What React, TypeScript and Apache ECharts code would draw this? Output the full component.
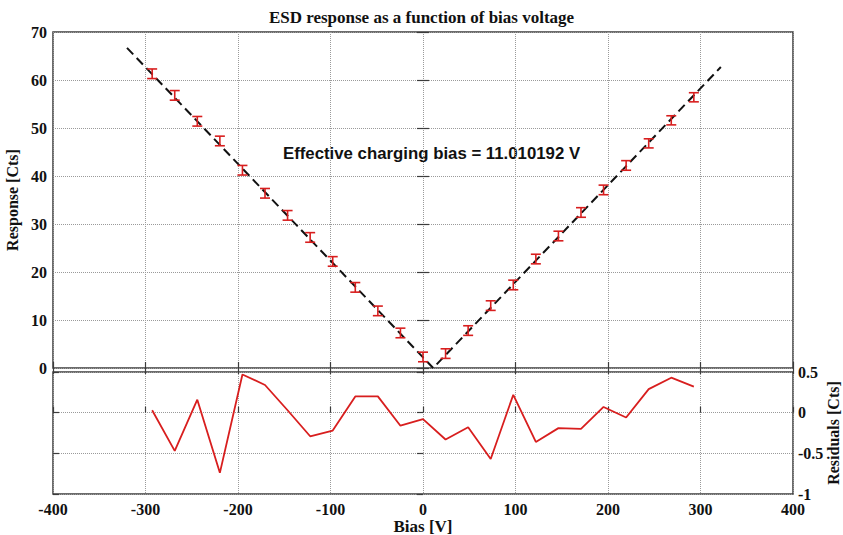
import React, { useEffect, useRef } from "react";
import * as echarts from "echarts";

const biasV = [-292.8, -268.4, -244, -219.6, -195.2, -170.8, -146.4, -122, -97.6, -73.2, -48.8, -24.4, 0, 24.4, 48.8, 73.2, 97.6, 122, 146.4, 170.8, 195.2, 219.6, 244, 268.4, 292.8];
const response = [61.3, 56.8, 51.4, 47.3, 41.2, 36.4, 31.8, 27.2, 22.2, 16.8, 11.9, 7.3, 2.3, 3.0, 7.8, 13.0, 17.3, 22.7, 27.5, 32.4, 37.1, 42.2, 46.8, 51.6, 56.4];
const responseErr = [1.0, 1.0, 1.0, 1.0, 1.0, 1.0, 1.0, 1.0, 1.0, 1.0, 1.0, 1.0, 1.0, 1.0, 1.0, 1.0, 1.0, 1.0, 1.0, 1.0, 1.0, 1.0, 0.95, 0.95, 0.95];
const residuals = [0.03, -0.47, 0.16, -0.74, 0.47, 0.34, 0.03, -0.29, -0.22, 0.2, 0.2, -0.16, -0.08, -0.33, -0.18, -0.57, 0.22, -0.36, -0.19, -0.2, 0.07, -0.06, 0.29, 0.43, 0.32];
const fitX = [-320, 11.01, 322];
const fitY = [66.7, 0, 62.7];

const RED = "#d81e1e";
const FRAME = "#3c3c3c";
const GRID = "#9a9a9a";
const SERIF = "'Liberation Serif', 'Times New Roman', serif";

export default function App() {
  const ref = useRef<HTMLDivElement>(null);
  useEffect(() => {
    document.body.style.margin = "0";
    const chart = echarts.init(ref.current!, null, { renderer: "svg" });
    const labelStyle = { fontFamily: SERIF, fontWeight: "bold" as const, fontSize: 16, color: "#111" };
    const tick = { show: true, inside: true, length: 6, lineStyle: { color: FRAME, width: 1.2 } };
    const split = { show: true, lineStyle: { color: GRID, type: "dotted" as const, width: 1 } };
    chart.setOption({
      animation: false,
      backgroundColor: "#fff",
      title: {
        text: "ESD response as a function of bias voltage",
        left: "center",
        top: 4,
        textStyle: { fontFamily: SERIF, fontWeight: "bold", fontSize: 17, color: "#111" },
      },
      grid: [
        { left: 53, right: 50, top: 32, height: 336, show: true, borderColor: FRAME, borderWidth: 1.5, backgroundColor: "transparent", containLabel: false, outerBoundsMode: "none" },
        { left: 53, right: 50, top: 372, height: 122, show: true, borderColor: FRAME, borderWidth: 1.5, backgroundColor: "transparent", containLabel: false, outerBoundsMode: "none" },
      ],
      xAxis: [
        { type: "value", gridIndex: 0, min: -400, max: 400, interval: 100, axisLine: { show: false }, axisTick: tick, axisLabel: { show: false }, splitLine: split },
        {
          type: "value", gridIndex: 1, min: -400, max: 400, interval: 100, axisLine: { show: false }, axisTick: tick,
          axisLabel: { ...labelStyle, margin: 7 }, splitLine: split,
          name: "Bias [V]", nameLocation: "middle", nameGap: 21,
          nameTextStyle: { fontFamily: SERIF, fontWeight: "bold", fontSize: 17, color: "#111" },
        },
        { type: "value", gridIndex: 0, position: "top", min: -400, max: 400, interval: 100, axisLine: { show: false }, axisTick: tick, axisLabel: { show: false }, splitLine: { show: false } },
      ],
      yAxis: [
        {
          type: "value", gridIndex: 0, min: 0, max: 70, interval: 10, position: "left", axisLine: { show: false }, axisTick: tick,
          axisLabel: { ...labelStyle, margin: 6 }, splitLine: split,
          name: "Response [Cts]", nameLocation: "middle", nameGap: 30, nameRotate: 90,
          nameTextStyle: { fontFamily: SERIF, fontWeight: "bold", fontSize: 16, color: "#111" },
        },
        { type: "value", gridIndex: 0, min: 0, max: 70, interval: 10, position: "right", axisLine: { show: false }, axisTick: tick, axisLabel: { show: false }, splitLine: { show: false } },
        {
          type: "value", gridIndex: 1, min: -1, max: 0.5, interval: 0.5, position: "right", axisLine: { show: false }, axisTick: tick,
          axisLabel: { ...labelStyle, margin: 5 }, splitLine: split,
        },
        { type: "value", gridIndex: 1, min: -1, max: 0.5, interval: 0.5, position: "left", axisLine: { show: false }, axisTick: tick, axisLabel: { show: false }, splitLine: { show: false } },
      ],
      graphic: [
        {
          type: "text", left: 283, top: 145,
          style: { text: "Effective charging bias = 11.010192 V", font: "bold 16.8px 'Liberation Sans', Arial, sans-serif", fill: "#111" },
        },
        {
          type: "text", x: 833, y: 433, rotation: Math.PI / 2,
          style: { text: "Residuals [Cts]", font: `bold 16px ${SERIF}`, fill: "#111", align: "center", verticalAlign: "middle" },
        },
      ],
      series: [
        {
          type: "line", xAxisIndex: 0, yAxisIndex: 0, symbol: "none",
          data: fitX.map((x, i) => [x, fitY[i]]),
          lineStyle: { color: "#111", width: 2, type: [9, 5] },
          z: 3,
        },
        {
          type: "custom", xAxisIndex: 0, yAxisIndex: 0,
          data: biasV.map((x, i) => [x, response[i], responseErr[i]]),
          renderItem: (params: any, api: any) => {
            const x = api.value(0), y = api.value(1), e = api.value(2);
            const t = api.coord([x, y + e]);
            const b = api.coord([x, y - e]);
            const hw = 5;
            const style = { stroke: RED, lineWidth: 1.6 };
            return {
              type: "group",
              children: [
                { type: "line", shape: { x1: t[0], y1: t[1], x2: b[0], y2: b[1] }, style },
                { type: "line", shape: { x1: t[0] - hw, y1: t[1], x2: t[0] + hw, y2: t[1] }, style },
                { type: "line", shape: { x1: b[0] - hw, y1: b[1], x2: b[0] + hw, y2: b[1] }, style },
              ],
            };
          },
          z: 4,
        },
        {
          type: "line", xAxisIndex: 1, yAxisIndex: 2, symbol: "none",
          data: biasV.map((x, i) => [x, residuals[i]]),
          lineStyle: { color: RED, width: 1.8 },
        },
      ],
    });
    return () => chart.dispose();
  }, []);
  return <div ref={ref} style={{ width: 843, height: 535 }} />;
}
